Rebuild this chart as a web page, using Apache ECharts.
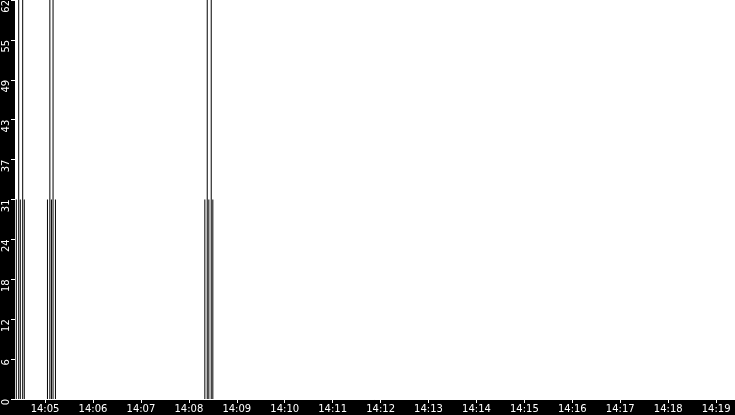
<!DOCTYPE html>
<html>
<head>
<meta charset="utf-8">
<script src="https://cdn.jsdelivr.net/npm/echarts@6/dist/echarts.min.js"></script>
<style>
html,body{margin:0;padding:0;background:#000;}
#chart{width:735px;height:415px;}
</style>
</head>
<body>
<div id="chart"></div>
<script>
var day = '2024-01-01 ';
var xMin = '14:04:23';
var xMax = '14:19:23';
var yTicks = [0, 6, 12, 18, 24, 31, 37, 43, 49, 55, 62];
var fullTimes = ['14:04:27', '14:04:32', '14:05:06', '14:05:10', '14:08:23', '14:08:28'];
var fullValues = [62, 62, 62, 62, 62, 62];
var halfTimes = ['14:04:24', '14:04:29', '14:04:34', '14:05:03', '14:05:08', '14:05:13', '14:08:20', '14:08:25', '14:08:30'];
var halfValues = [31, 31, 31, 31, 31, 31, 31, 31, 31];

function pairs(times, values) {
  return times.map(function (t, i) { return [day + t, values[i]]; });
}

var chart = echarts.init(document.getElementById('chart'), null, {renderer: 'canvas'});
var font = 'DejaVu Sans';
chart.setOption({
  backgroundColor: '#000',
  animation: false,
  grid: {left: 15, right: 0, top: 0, bottom: 16, show: true, backgroundColor: '#fff', borderWidth: 0, containLabel: false, outerBoundsMode: 'none'},
  xAxis: {
    type: 'time',
    min: day + xMin,
    max: day + xMax,
    minInterval: 60000,
    maxInterval: 60000,
    interval: 60000,
    splitNumber: 15,
    axisLine: {show: true, lineStyle: {color: '#fff', width: 1}},
    axisTick: {show: true, length: 4, lineStyle: {color: '#fff'}},
    axisLabel: {color: '#fff', fontFamily: font, fontSize: 10, margin: 5, formatter: '{HH}:{mm}', showMinLabel: false, showMaxLabel: false, hideOverlap: false},
    splitLine: {show: false}
  },
  yAxis: {
    type: 'value',
    min: 0,
    max: yTicks[yTicks.length - 1],
    interval: yTicks[yTicks.length - 1] / (yTicks.length - 1),
    axisLine: {show: true, lineStyle: {color: '#fff'}},
    axisTick: {show: true, length: 4, lineStyle: {color: '#fff'}},
    axisLabel: {
      color: '#fff', fontFamily: font, fontSize: 10, rotate: 90, margin: 9,
      align: 'right', verticalAlign: 'middle',
      formatter: function (v) { return String(Math.floor(v + 1e-6)); }
    },
    splitLine: {show: false}
  },
  series: [
    {type: 'bar', name: 'full', data: pairs(fullTimes, fullValues), barWidth: 1, barGap: '-100%', itemStyle: {color: '#000'}},
    {type: 'bar', name: 'half', data: pairs(halfTimes, halfValues), barWidth: 1, barGap: '-100%', itemStyle: {color: '#000'}}
  ]
});
</script>
</body>
</html>
